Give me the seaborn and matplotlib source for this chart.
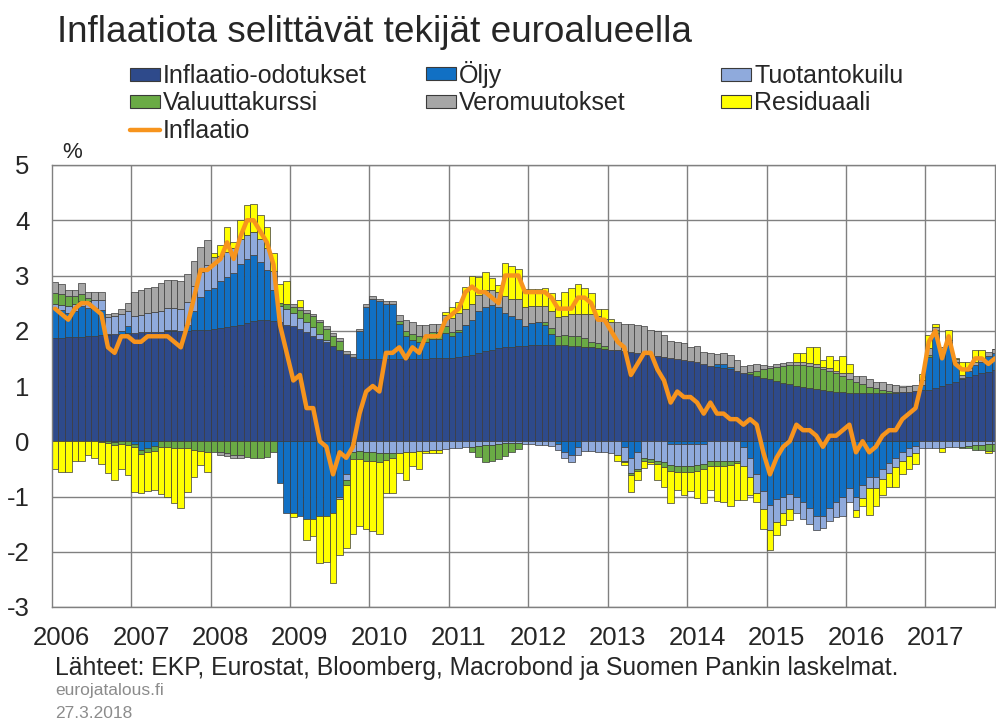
import numpy as np
import pandas as pd
import matplotlib
matplotlib.use("Agg")
import matplotlib.pyplot as plt
import seaborn as sns
from matplotlib.patches import Patch
from matplotlib.lines import Line2D

# monthly data, Jan 2006 - Nov 2017 (percentage points)
years = [str(y) for y in range(2006, 2018)]

inflaatio = [
    2.4, 2.3, 2.2, 2.4, 2.5, 2.5, 2.4, 2.3, 1.7, 1.6, 1.9, 1.9,
    1.8, 1.8, 1.9, 1.9, 1.9, 1.9, 1.8, 1.7, 2.1, 2.6, 3.1, 3.1,
    3.2, 3.3, 3.6, 3.3, 3.7, 4.0, 4.0, 3.8, 3.6, 3.2, 2.1, 1.6,
    1.1, 1.2, 0.6, 0.6, 0.0, -0.1, -0.6, -0.2, -0.3, -0.1, 0.5, 0.9,
    1.0, 0.9, 1.6, 1.6, 1.7, 1.5, 1.7, 1.6, 1.9, 1.9, 1.9, 2.2,
    2.3, 2.4, 2.7, 2.8, 2.7, 2.7, 2.6, 2.5, 3.0, 3.0, 3.0, 2.7,
    2.7, 2.7, 2.7, 2.6, 2.4, 2.4, 2.4, 2.6, 2.6, 2.5, 2.2, 2.2,
    2.0, 1.8, 1.7, 1.2, 1.4, 1.6, 1.6, 1.3, 1.1, 0.7, 0.9, 0.8,
    0.8, 0.7, 0.5, 0.7, 0.5, 0.5, 0.4, 0.4, 0.3, 0.4, 0.3, -0.2,
    -0.6, -0.3, -0.1, 0.0, 0.3, 0.2, 0.2, 0.1, -0.1, 0.1, 0.1, 0.2,
    0.3, -0.2, 0.0, -0.2, -0.1, 0.1, 0.2, 0.2, 0.4, 0.5, 0.6, 1.1,
    1.8, 2.0, 1.5, 1.9, 1.4, 1.3, 1.3, 1.5, 1.5, 1.4, 1.5,
]

odotukset = [
    1.86, 1.87, 1.88, 1.88, 1.89, 1.90, 1.91, 1.92, 1.93, 1.94, 1.95, 1.96,
    1.96, 1.97, 1.97, 1.98, 1.98, 1.99, 1.99, 2.00, 2.00, 2.01, 2.01, 2.02,
    2.03, 2.05, 2.07, 2.09, 2.11, 2.14, 2.17, 2.19, 2.20, 2.18, 2.15, 2.11,
    2.08, 2.03, 1.97, 1.91, 1.85, 1.79, 1.73, 1.66, 1.58, 1.53, 1.49, 1.48,
    1.48, 1.48, 1.48, 1.48, 1.48, 1.48, 1.48, 1.49, 1.49, 1.50, 1.50, 1.51,
    1.50, 1.52, 1.55, 1.57, 1.60, 1.63, 1.66, 1.68, 1.70, 1.71, 1.72, 1.73,
    1.74, 1.75, 1.75, 1.75, 1.75, 1.74, 1.73, 1.72, 1.71, 1.70, 1.69, 1.67,
    1.66, 1.65, 1.63, 1.62, 1.60, 1.58, 1.57, 1.55, 1.53, 1.51, 1.49, 1.47,
    1.45, 1.43, 1.40, 1.37, 1.35, 1.32, 1.30, 1.27, 1.24, 1.21, 1.18, 1.15,
    1.12, 1.09, 1.06, 1.03, 1.00, 0.98, 0.96, 0.94, 0.92, 0.91, 0.90, 0.89,
    0.88, 0.88, 0.88, 0.88, 0.88, 0.88, 0.88, 0.88, 0.89, 0.90, 0.91, 0.92,
    0.93, 0.96, 1.00, 1.04, 1.08, 1.12, 1.16, 1.20, 1.23, 1.26, 1.29,
]

oljy = [
    0.55, 0.50, 0.45, 0.48, 0.55, 0.52, 0.50, 0.45, 0.02, -0.02, 0.05, 0.12,
    -0.05, -0.15, -0.12, -0.08, 0.00, 0.02, 0.03, 0.00, 0.10, 0.35, 0.60, 0.72,
    0.75, 0.85, 0.90, 0.95, 1.10, 1.15, 1.20, 1.05, 0.90, 0.55, -0.75, -1.30,
    -1.30, -1.35, -1.40, -1.40, -1.35, -1.35, -1.30, -1.00, -0.60, -0.05, 0.50, 0.95,
    1.10, 1.05, 1.00, 1.00, 0.65, 0.42, 0.35, 0.30, 0.30, 0.35, 0.35, 0.45,
    0.40, 0.45, 0.55, 0.62, 0.75, 0.80, 0.80, 0.75, 0.62, 0.55, 0.50, 0.35,
    0.40, 0.40, 0.35, 0.20, -0.05, -0.20, -0.25, -0.10, 0.00, 0.00, 0.00, 0.00,
    0.00, 0.00, -0.10, -0.30, -0.20, 0.00, 0.00, 0.00, 0.00, -0.05, -0.05, -0.05,
    -0.05, -0.05, -0.05, 0.00, 0.05, 0.08, 0.05, 0.00, -0.10, -0.30, -0.60, -0.90,
    -1.15, -1.05, -1.00, -0.95, -1.00, -1.10, -1.20, -1.35, -1.35, -1.20, -1.10, -1.00,
    -0.85, -1.00, -0.80, -0.65, -0.65, -0.50, -0.40, -0.30, -0.20, -0.12, -0.08, 0.10,
    0.60, 1.00, 0.60, 0.70, 0.36, 0.03, 0.12, 0.18, 0.20, 0.28, 0.30,
]

tuotantokuilu = [
    0.08, 0.10, 0.12, 0.12, 0.10, 0.12, 0.15, 0.18, 0.30, 0.33, 0.30, 0.28,
    0.30, 0.32, 0.35, 0.36, 0.38, 0.40, 0.40, 0.40, 0.42, 0.45, 0.45, 0.45,
    0.45, 0.45, 0.45, 0.45, 0.45, 0.45, 0.42, 0.42, 0.40, 0.35, 0.30, 0.28,
    0.25, 0.20, 0.18, 0.15, 0.10, 0.05, 0.00, -0.05, -0.10, -0.15, -0.18, -0.20,
    -0.20, -0.22, -0.22, -0.22, -0.22, -0.20, -0.20, -0.18, -0.18, -0.16, -0.15, -0.14,
    -0.13, -0.12, -0.10, -0.10, -0.08, -0.07, -0.06, -0.05, -0.04, -0.04, -0.04, -0.05,
    -0.05, -0.06, -0.07, -0.08, -0.10, -0.10, -0.12, -0.15, -0.17, -0.18, -0.20, -0.20,
    -0.22, -0.25, -0.25, -0.28, -0.30, -0.30, -0.32, -0.35, -0.38, -0.38, -0.40, -0.40,
    -0.40, -0.38, -0.36, -0.35, -0.35, -0.35, -0.35, -0.35, -0.35, -0.35, -0.33, -0.33,
    -0.45, -0.42, -0.30, -0.28, -0.30, -0.30, -0.30, -0.25, -0.22, -0.25, -0.27, -0.35,
    -0.25, -0.25, -0.22, -0.20, -0.20, -0.18, -0.17, -0.16, -0.15, -0.14, -0.13, -0.12,
    -0.12, -0.12, -0.12, -0.11, -0.10, -0.10, -0.08, -0.07, -0.06, -0.05, -0.05,
]

valuuttakurssi = [
    0.20, 0.20, 0.18, 0.15, 0.12, 0.05, 0.00, -0.02, -0.03, -0.04, -0.05, -0.06,
    -0.06, -0.08, -0.08, -0.10, -0.10, -0.10, -0.12, -0.12, -0.12, -0.15, -0.18, -0.20,
    -0.20, -0.20, -0.22, -0.25, -0.25, -0.28, -0.30, -0.30, -0.28, -0.20, 0.05, 0.10,
    0.10, 0.15, 0.18, 0.20, 0.20, 0.20, 0.18, 0.15, -0.10, -0.12, -0.15, -0.15,
    -0.15, -0.15, -0.12, -0.08, 0.05, 0.10, 0.12, 0.12, 0.12, 0.12, 0.12, 0.12,
    0.08, 0.05, 0.00, -0.10, -0.20, -0.30, -0.30, -0.28, -0.22, -0.15, -0.10, 0.00,
    0.00, 0.00, 0.05, 0.10, 0.15, 0.18, 0.18, 0.18, 0.15, 0.10, 0.08, 0.05,
    0.00, 0.00, -0.02, -0.03, -0.04, -0.05, -0.06, -0.07, -0.08, -0.10, -0.10, -0.10,
    -0.10, -0.10, -0.10, -0.10, -0.10, -0.10, -0.08, -0.05, 0.00, 0.05, 0.10, 0.15,
    0.20, 0.25, 0.30, 0.35, 0.38, 0.40, 0.40, 0.40, 0.38, 0.36, 0.33, 0.30,
    0.25, 0.20, 0.15, 0.10, 0.08, 0.05, 0.03, 0.02, 0.00, 0.00, 0.00, 0.00,
    0.03, 0.05, 0.05, 0.05, 0.00, -0.03, -0.05, -0.08, -0.10, -0.12, -0.12,
]

veromuutokset = [
    0.20, 0.18, 0.10, 0.10, 0.20, 0.12, 0.15, 0.15, 0.05, 0.05, 0.10, 0.15,
    0.45, 0.45, 0.45, 0.45, 0.50, 0.50, 0.50, 0.50, 0.50, 0.45, 0.45, 0.45,
    0.10, -0.05, -0.05, -0.05, -0.05, 0.00, 0.00, 0.00, 0.00, 0.00, 0.00, 0.00,
    0.05, 0.05, 0.05, 0.05, 0.05, 0.05, 0.05, 0.05, 0.05, 0.05, 0.05, 0.05,
    0.05, 0.05, 0.05, 0.05, 0.10, 0.20, 0.20, 0.20, 0.20, 0.15, 0.15, 0.20,
    0.25, 0.30, 0.30, 0.30, 0.30, 0.30, 0.28, 0.28, 0.30, 0.32, 0.35, 0.35,
    0.30, 0.30, 0.30, 0.30, 0.35, 0.35, 0.40, 0.40, 0.45, 0.50, 0.50, 0.50,
    0.50, 0.50, 0.50, 0.50, 0.50, 0.50, 0.45, 0.45, 0.40, 0.30, 0.30, 0.30,
    0.25, 0.30, 0.22, 0.22, 0.18, 0.20, 0.22, 0.20, 0.12, 0.12, 0.12, 0.08,
    0.05, 0.05, 0.05, 0.05, 0.05, 0.05, 0.05, 0.05, 0.05, 0.05, 0.05, 0.05,
    0.10, 0.10, 0.15, 0.15, 0.12, 0.15, 0.12, 0.12, 0.10, 0.10, 0.10, 0.08,
    0.12, 0.05, 0.05, 0.05, 0.05, 0.05, 0.05, 0.05, 0.05, 0.08, 0.08,
]

residuaali = [
    -0.50, -0.55, -0.55, -0.35, -0.35, -0.25, -0.30, -0.40, -0.55, -0.65, -0.45, -0.55,
    -0.80, -0.70, -0.70, -0.70, -0.85, -0.90, -1.00, -1.08, -0.80, -0.50, -0.25, -0.35,
    0.07, 0.20, 0.45, 0.11, 0.34, 0.54, 0.51, 0.44, 0.38, 0.32, 0.35, 0.41,
    -0.08, 0.12, -0.38, -0.31, -0.85, -0.84, -1.26, -1.01, -1.13, -1.36, -1.21, -1.23,
    -1.28, -1.31, -0.59, -0.63, -0.36, -0.50, -0.25, -0.33, -0.03, -0.06, -0.07, 0.06,
    0.20, 0.20, 0.40, 0.50, 0.33, 0.34, 0.22, 0.12, 0.60, 0.60, 0.55, 0.32,
    0.31, 0.31, 0.32, 0.33, 0.30, 0.43, 0.46, 0.55, 0.46, 0.38, 0.13, 0.18,
    0.06, -0.10, -0.06, -0.31, -0.16, -0.13, -0.04, -0.28, -0.37, -0.58, -0.34, -0.42,
    -0.35, -0.50, -0.61, -0.44, -0.63, -0.65, -0.74, -0.67, -0.61, -0.33, -0.17, -0.35,
    -0.37, -0.22, -0.21, -0.20, 0.17, 0.17, 0.29, 0.31, 0.12, 0.23, 0.19, 0.31,
    0.17, -0.13, -0.16, -0.48, -0.33, -0.30, -0.26, -0.36, -0.24, -0.24, -0.20, 0.12,
    0.24, 0.06, -0.08, 0.17, 0.01, 0.23, 0.10, 0.22, 0.18, -0.05, 0.00,
]

komponentit = [
    ("Inflaatio-odotukset", odotukset, "#2E4A8B"),
    ("Öljy", oljy, "#1170C4"),
    ("Tuotantokuilu", tuotantokuilu, "#8FAADC"),
    ("Valuuttakurssi", valuuttakurssi, "#6AAB45"),
    ("Veromuutokset", veromuutokset, "#A6A6A6"),
    ("Residuaali", residuaali, "#FFFF00"),
]
line_color = "#F7941D"
grid_color = "#808080"

sns.set_style("white")
plt.rcParams['font.family'] = ['Liberation Sans', 'DejaVu Sans']
plt.rcParams['axes.unicode_minus'] = False

W, H = 996, 724
fig = plt.figure(figsize=(W / 100, H / 100), dpi=100)
ax = fig.add_axes([51.7 / W, 1 - 607 / H, (995 - 51.7) / W, (607 - 165) / H])

n = len(inflaatio)
kk = np.arange(n)
pos = np.zeros(n)
neg = np.zeros(n)
for nimi, arvot, vari in komponentit:
    v = np.array(arvot)
    pohja = np.where(v >= 0, pos, neg)
    ax.bar(kk, v, bottom=pohja, width=1.0, color=vari, edgecolor="#3a3a3a",
           linewidth=0.5, zorder=2)
    pos += np.clip(v, 0, None)
    neg += np.clip(v, None, 0)

df = pd.DataFrame({"kk": kk, "inflaatio": inflaatio})
sns.lineplot(data=df, x="kk", y="inflaatio", ax=ax, color=line_color,
             linewidth=3.2, zorder=3)

ax.set_xlim(-0.5, 142)
ax.set_ylim(-3, 5)
ax.set_yticks(range(-3, 6))
ax.set_yticklabels([str(t) for t in range(-3, 6)], fontsize=18.5)
ax.set_xticks([12 * k + 1 for k in range(len(years))])
ax.set_xticklabels(years, fontsize=18.5)
ax.tick_params(axis="both", length=0)
ax.tick_params(axis="y", pad=16)
ax.tick_params(axis="x", pad=14)
ax.set_xlabel("")
ax.set_ylabel("")
ax.yaxis.grid(True, color=grid_color, linewidth=1)
ax.set_axisbelow(True)
for k in range(1, len(years)):
    ax.axvline(12 * k - 0.5, color=grid_color, linewidth=1, zorder=0.5)
for s in ax.spines.values():
    s.set_color(grid_color)
    s.set_linewidth(1)

fig.text(57 / W, 1 - 33 / H, "Inflaatiota selittävät tekijät euroalueella",
         fontsize=26.6, va="center", ha="left")
fig.text(62 / W, 1 - 153 / H, "%", fontsize=16, va="center", ha="left")
fig.text(55 / W, 1 - 668 / H,
         "Lähteet: EKP, Eurostat, Bloomberg, Macrobond ja Suomen Pankin laskelmat.",
         fontsize=17.8, va="center", ha="left")
fig.text(55 / W, 1 - 690 / H, "eurojatalous.fi", fontsize=12.5,
         color="#8c8c8c", va="center", ha="left")
fig.text(55 / W, 1 - 713 / H, "27.3.2018", fontsize=12.5,
         color="#8c8c8c", va="center", ha="left")

# legend entries placed one by one (three columns, three rows)
kahvat = {nimi: Patch(facecolor=vari, edgecolor="#3a3a3a", linewidth=0.8)
          for nimi, _, vari in komponentit}
kahvat["Inflaatio"] = Line2D([0], [0], color=line_color, linewidth=3.2)
paikat = [
    ("Inflaatio-odotukset", 130, 76),
    ("Valuuttakurssi", 130, 103.5),
    ("Inflaatio", 130, 131),
    ("Öljy", 426, 74),
    ("Veromuutokset", 426, 103.5),
    ("Tuotantokuilu", 721, 76),
    ("Residuaali", 721, 103.5),
]
for nimi, x0, y0 in paikat:
    fig.legend([kahvat[nimi]], [nimi], loc="center left",
               bbox_to_anchor=(x0 / W, 1 - y0 / H), frameon=False,
               fontsize=18, handlelength=1.2, handleheight=0.42,
               handletextpad=0.12, borderpad=0, borderaxespad=0)

fig.savefig("out.png", dpi=100)
